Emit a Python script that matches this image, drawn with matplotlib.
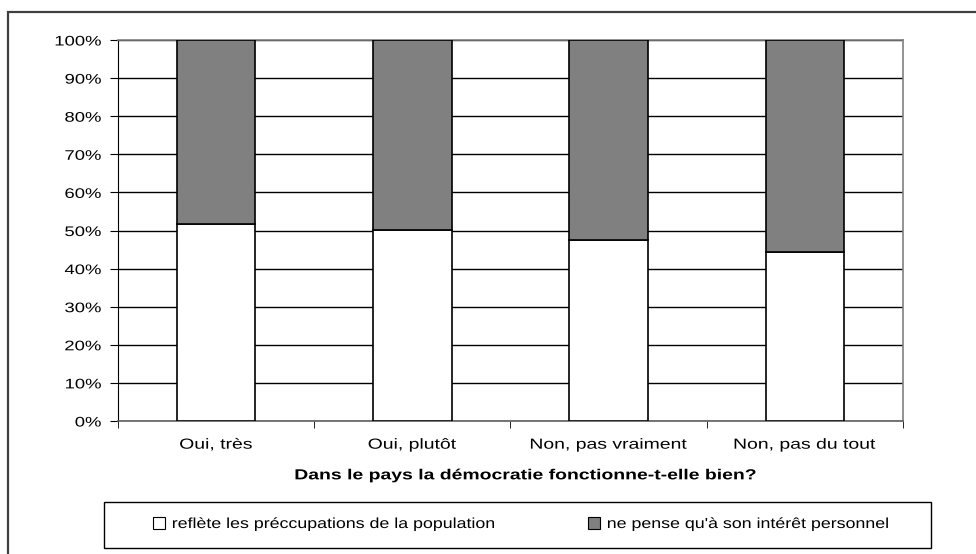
import matplotlib.pyplot as plt
from matplotlib.patches import Rectangle
from matplotlib.patheffects import AbstractPathEffect
from matplotlib.transforms import Affine2D
from matplotlib.ticker import MultipleLocator, PercentFormatter
import numpy as np

plt.rcParams['font.family'] = ['Liberation Sans', 'DejaVu Sans']

# data
categories = ["Oui, très", "Oui, plutôt", "Non, pas vraiment", "Non, pas du tout"]
reflete = [51.6, 50.1, 47.4, 44.4]
interet = [100 - v for v in reflete]
series_names = ["reflète les préccupations de la population",
                "ne pense qu'à son intérêt personnel"]
xlabel = "Dans le pays la démocratie fonctionne-t-elle bien?"


# the original text looks stretched sideways, so widen the glyph paths
class Stretch(AbstractPathEffect):
    def __init__(self, sx, anchor='center'):
        super().__init__()
        self.sx = sx
        self.anchor = anchor

    def draw_path(self, renderer, gc, tpath, affine, rgbFace=None):
        ext = tpath.get_extents()
        if self.anchor == 'right':
            x0 = ext.x1
        elif self.anchor == 'left':
            x0 = ext.x0
        else:
            x0 = (ext.x0 + ext.x1) / 2
        t = Affine2D().translate(-x0, 0).scale(self.sx, 1).translate(x0, 0) + affine
        renderer.draw_path(gc, tpath, t, rgbFace)


SX = 1.33
W, H = 976, 554
fig = plt.figure(figsize=(W / 100, H / 100), dpi=100)
ax = fig.add_axes([118 / W, 1 - 421 / H, (903 - 118) / W, (421 - 40) / H])

x = np.arange(len(categories))
b1 = ax.bar(x, reflete, width=0.40, color='white', edgecolor='black', linewidth=1.2, zorder=3)
b2 = ax.bar(x, interet, bottom=reflete, width=0.40, color='#808080',
            edgecolor='black', linewidth=1.2, zorder=3)

ax.set_xlim(-0.5, len(categories) - 0.5)
ax.set_ylim(0, 100)
ax.yaxis.set_major_locator(MultipleLocator(10))
ax.yaxis.set_major_formatter(PercentFormatter(decimals=0))
ax.grid(axis='y', color='black', linewidth=1.0, zorder=0)

# category labels centered, ticks on the boundaries
ax.set_xticks(x)
ax.set_xticklabels(categories, fontsize=10.5)
ax.tick_params(axis='x', length=0, pad=12)
ax.set_xticks(np.arange(len(categories) + 1) - 0.5, minor=True)
ax.tick_params(axis='x', which='minor', length=5, color='black')
ax.tick_params(axis='y', labelsize=10, length=5.5, pad=6.5, color='black')

for lbl in ax.get_xticklabels():
    lbl.set_path_effects([Stretch(SX, 'center')])
for lbl in ax.get_yticklabels():
    lbl.set_path_effects([Stretch(SX, 'right')])

for side in ['top', 'right']:
    ax.spines[side].set_color('#808080')
    ax.spines[side].set_linewidth(1.2)
ax.spines['left'].set_color('black')
ax.spines['bottom'].set_color('#606060')
ax.spines['bottom'].set_linewidth(1.2)

xl = ax.set_xlabel(xlabel, fontsize=10.5, fontweight='bold', labelpad=12)
xl.set_x(0.5 + 16 / 785)
xl.set_path_effects([Stretch(SX, 'center')])

# legend box with the two entries placed by hand
fig.patches.append(Rectangle((104 / W, 1 - 548 / H), (931 - 104) / W, 46 / H,
                             transform=fig.transFigure, fill=False,
                             edgecolor='black', linewidth=1.0))
for handle, name, xpos in [(b1, series_names[0], 153), (b2, series_names[1], 588)]:
    leg = fig.legend([handle], [name], loc='center left',
                     bbox_to_anchor=(xpos / W, 1 - 524 / H), frameon=False,
                     fontsize=10.5, handlelength=0.8, handleheight=0.8,
                     handletextpad=0.5, borderpad=0, borderaxespad=0)
    leg.legend_handles[0].set_linewidth(0.8)
    for t in leg.get_texts():
        t.set_path_effects([Stretch(1.22, 'left')])

# outer chart frame (cut off at right and bottom like the original)
fig.patches.append(Rectangle((8 / W, -0.05), 1.0, 1 - 12 / H + 0.05,
                             transform=fig.transFigure, fill=False,
                             edgecolor='#404040', linewidth=1.6))

fig.savefig("out.png", dpi=100)
